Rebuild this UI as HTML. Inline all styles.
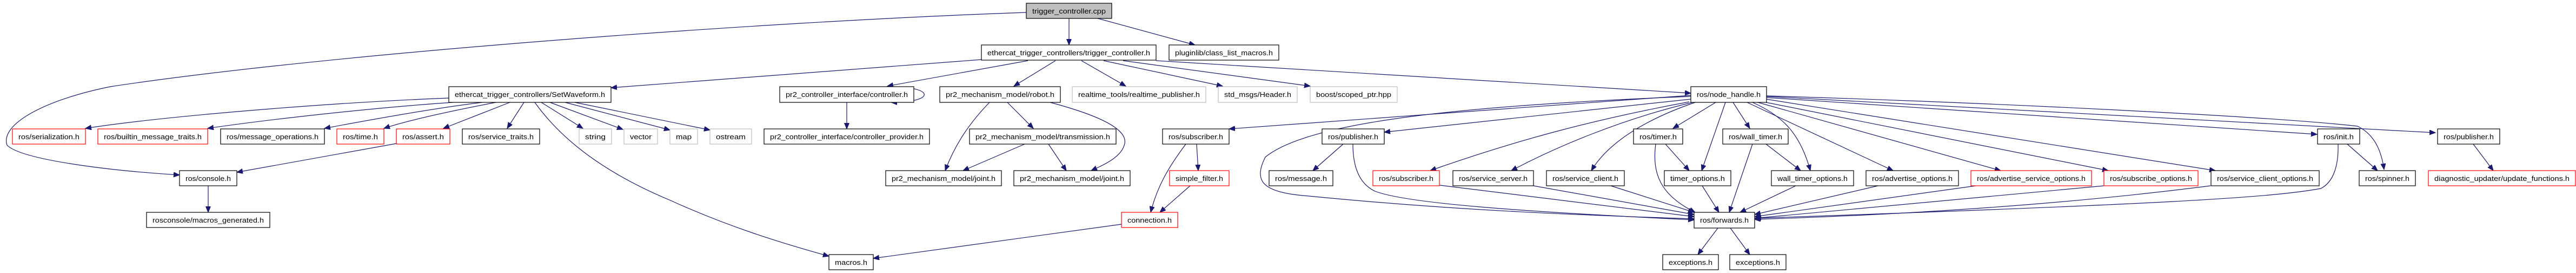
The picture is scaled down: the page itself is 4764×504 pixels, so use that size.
<!DOCTYPE html>
<html><head><meta charset="utf-8"><style>
html,body{margin:0;padding:0;background:#fff;}
svg{display:block;}
text{font-family:"Liberation Sans",sans-serif;font-size:13px;fill:#000;text-anchor:middle;}
.n{fill:#fff;stroke:#000;stroke-width:1.2;}
.r{fill:#fff;stroke:#ff0000;stroke-width:1.2;}
.g{fill:#fff;stroke:#bfbfbf;stroke-width:1.2;}
.e{fill:none;stroke:#191970;stroke-width:1.2;marker-end:url(#a);}
</style></head><body>
<svg width="4764" height="504" viewBox="0 0 4764 504" xmlns="http://www.w3.org/2000/svg">
<defs><marker id="a" markerUnits="userSpaceOnUse" markerWidth="12" markerHeight="10" refX="11" refY="4.5" orient="auto"><path d="M0,0 L11,4.5 L0,9 Z" fill="#191970" stroke="#191970"/></marker></defs>

<!-- edges -->
<g>
<path class="e" d="M1977,34 L1977,83"/>
<path class="e" d="M2030,34 L2210,83"/>
<path class="e" d="M1898,23 C1400,40 600,100 204,160 C80,185 0,230 13,268 C40,295 200,315 332,323"/>
<path class="e" d="M1815,110 L1130,162"/>
<path class="e" d="M1901,112 L1641,159"/>
<path class="e" d="M1952,112 L1875,159"/>
<path class="e" d="M2000,112 L2082,159"/>
<path class="e" d="M2041,112 L2261,159"/>
<path class="e" d="M2077,112 L2423,159"/>
<path class="e" d="M2138,112 L3127,172"/>
<path class="e" d="M1646,160 C1730,160 1730,189 1648,189"/>
<path class="e" d="M1566,189 L1566,238"/>
<path class="e" d="M830,181 C600,190 300,215 158,237"/>
<path class="e" d="M838,189 C700,198 500,220 384,237"/>
<path class="e" d="M892,189 C800,200 680,222 600,237"/>
<path class="e" d="M917,189 C860,200 760,220 710,237"/>
<path class="e" d="M943,189 L820,237"/>
<path class="e" d="M969,189 L938,237"/>
<path class="e" d="M1001,189 L1078,237"/>
<path class="e" d="M1017,189 L1152,239"/>
<path class="e" d="M1045,189 L1239,240"/>
<path class="e" d="M1063,189 L1313,240"/>
<path class="e" d="M989,189 C1040,260 1120,320 1240,370 C1350,420 1450,450 1533,473"/>
<path class="e" d="M733,265 L438,318"/>
<path class="e" d="M385,343 L385,392"/>
<path class="e" d="M1830,189 C1790,230 1765,270 1748,315"/>
<path class="e" d="M1863,189 L1911,237"/>
<path class="e" d="M1942,189 C2040,215 2085,240 2080,265 C2075,290 2040,305 2018,315"/>
<path class="e" d="M1895,266 L1781,315"/>
<path class="e" d="M1939,266 L1972,315"/>
<path class="e" d="M3127,176 L2273,238"/>
<path class="e" d="M3127,178 C2700,195 2420,225 2340,290 C2320,330 2330,352 2400,360 C2700,390 2950,398 3133,404"/>
<path class="e" d="M3127,183 L2560,244"/>
<path class="e" d="M3124,188 C2950,220 2800,260 2645,315"/>
<path class="e" d="M3130,189 C3000,220 2880,270 2795,315"/>
<path class="e" d="M3135,189 C3030,225 2970,270 2943,315"/>
<path class="e" d="M3173,189 L3094,237"/>
<path class="e" d="M3191,189 L3147,315"/>
<path class="e" d="M3205,189 L3236,237"/>
<path class="e" d="M3241,189 C3300,215 3330,250 3348,315"/>
<path class="e" d="M3231,189 L3501,315"/>
<path class="e" d="M3251,189 L3700,315"/>
<path class="e" d="M3266,189 L3899,315"/>
<path class="e" d="M3266,183 L4097,315"/>
<path class="e" d="M3266,180 L4285,248"/>
<path class="e" d="M3266,177 C3700,190 4200,215 4360,233 C4395,250 4405,285 4409,313"/>
<path class="e" d="M3266,178 L4504,245"/>
<path class="e" d="M4341,266 L4397,315"/>
<path class="e" d="M4324,266 C4325,300 4318,335 4292,348 C4200,365 4000,377 3246,403"/>
<path class="e" d="M4574,266 L4611,315"/>
<path class="e" d="M2484,266 L2428,315"/>
<path class="e" d="M2502,266 C2502,310 2515,340 2543,353 C2600,375 2800,390 3133,406"/>
<path class="e" d="M2663,342 L3133,400"/>
<path class="e" d="M2836,343 L3133,396"/>
<path class="e" d="M2979,343 L3133,392"/>
<path class="e" d="M3062,266 C3055,320 3070,360 3135,392"/>
<path class="e" d="M3080,266 L3124,315"/>
<path class="e" d="M3148,343 L3179,392"/>
<path class="e" d="M3241,266 L3198,392"/>
<path class="e" d="M3266,266 L3330,315"/>
<path class="e" d="M3321,343 L3218,392"/>
<path class="e" d="M3473,343 L3245,396"/>
<path class="e" d="M3654,343 L3245,400"/>
<path class="e" d="M3891,343 L3245,403"/>
<path class="e" d="M4088,343 C3800,380 3500,397 3245,405"/>
<path class="e" d="M3177,421 L3140,470"/>
<path class="e" d="M3200,421 L3236,470"/>
<path class="e" d="M2213,266 L2216,315"/>
<path class="e" d="M2193,266 C2160,310 2140,345 2128,392"/>
<path class="e" d="M2201,343 L2145,392"/>
<path class="e" d="M2074,414 L1615,477"/>
</g>

<!-- nodes -->
<g>
<rect class="r" x="23" y="238" width="135" height="28"/><text x="90.5" y="257" textLength="113" lengthAdjust="spacingAndGlyphs">ros/serialization.h</text>
<rect class="r" x="181" y="238" width="203" height="28"/><text x="282.5" y="257" textLength="181" lengthAdjust="spacingAndGlyphs">ros/builtin_message_traits.h</text>
<rect class="n" x="408" y="238" width="192" height="28"/><text x="504" y="257" textLength="170" lengthAdjust="spacingAndGlyphs">ros/message_operations.h</text>
<rect class="r" x="623" y="238" width="87" height="28"/><text x="666.5" y="257" textLength="65" lengthAdjust="spacingAndGlyphs">ros/time.h</text>
<rect class="r" x="733" y="238" width="99" height="28"/><text x="782.5" y="257" textLength="77" lengthAdjust="spacingAndGlyphs">ros/assert.h</text>
<rect class="n" x="332" y="315" width="106" height="28"/><text x="385" y="334" textLength="84" lengthAdjust="spacingAndGlyphs">ros/console.h</text>
<rect class="n" x="271" y="392" width="228" height="28"/><text x="385" y="411" textLength="206" lengthAdjust="spacingAndGlyphs">rosconsole/macros_generated.h</text>
<rect class="n" x="830" y="160" width="300" height="29"/><text x="980" y="179" textLength="278" lengthAdjust="spacingAndGlyphs">ethercat_trigger_controllers/SetWaveform.h</text>
<rect class="n" x="855" y="238" width="143" height="28"/><text x="926.5" y="257" textLength="121" lengthAdjust="spacingAndGlyphs">ros/service_traits.h</text>
<rect class="g" x="1071" y="238" width="60" height="28"/><text x="1101" y="257" textLength="38" lengthAdjust="spacingAndGlyphs">string</text>
<rect class="g" x="1154" y="238" width="62" height="28"/><text x="1185" y="257" textLength="40" lengthAdjust="spacingAndGlyphs">vector</text>
<rect class="g" x="1239" y="238" width="51" height="28"/><text x="1264.5" y="257" textLength="29" lengthAdjust="spacingAndGlyphs">map</text>
<rect class="g" x="1313" y="238" width="77" height="28"/><text x="1351.5" y="257" textLength="55" lengthAdjust="spacingAndGlyphs">ostream</text>
<rect class="n" x="1442" y="160" width="248" height="29"/><text x="1566" y="179" textLength="226" lengthAdjust="spacingAndGlyphs">pr2_controller_interface/controller.h</text>
<rect class="n" x="1413" y="238" width="306" height="28"/><text x="1566" y="257" textLength="284" lengthAdjust="spacingAndGlyphs">pr2_controller_interface/controller_provider.h</text>
<rect class="n" x="1533" y="470" width="82" height="28"/><text x="1574" y="489" textLength="60" lengthAdjust="spacingAndGlyphs">macros.h</text>
<rect x="1898" y="6" width="158" height="28" fill="#bfbfbf" stroke="#000" stroke-width="1.2"/><text x="1977" y="25" textLength="136" lengthAdjust="spacingAndGlyphs">trigger_controller.cpp</text>
<rect class="n" x="1815" y="83" width="323" height="28"/><text x="1976.5" y="102" textLength="301" lengthAdjust="spacingAndGlyphs">ethercat_trigger_controllers/trigger_controller.h</text>
<rect class="n" x="2162" y="83" width="203" height="28"/><text x="2263.5" y="102" textLength="181" lengthAdjust="spacingAndGlyphs">pluginlib/class_list_macros.h</text>
<rect class="n" x="1738" y="160" width="223" height="29"/><text x="1849.5" y="179" textLength="201" lengthAdjust="spacingAndGlyphs">pr2_mechanism_model/robot.h</text>
<rect class="g" x="1983" y="160" width="247" height="29"/><text x="2106.5" y="179" textLength="225" lengthAdjust="spacingAndGlyphs">realtime_tools/realtime_publisher.h</text>
<rect class="g" x="2253" y="160" width="146" height="29"/><text x="2326" y="179" textLength="124" lengthAdjust="spacingAndGlyphs">std_msgs/Header.h</text>
<rect class="n" x="1793" y="238" width="271" height="28"/><text x="1928.5" y="257" textLength="249" lengthAdjust="spacingAndGlyphs">pr2_mechanism_model/transmission.h</text>
<rect class="n" x="1638" y="315" width="214" height="28"/><text x="1745" y="334" textLength="192" lengthAdjust="spacingAndGlyphs">pr2_mechanism_model/joint.h</text>
<rect class="n" x="1875" y="315" width="215" height="28"/><text x="1982.5" y="334" textLength="193" lengthAdjust="spacingAndGlyphs">pr2_mechanism_model/joint.h</text>
<rect class="n" x="2150" y="238" width="123" height="28"/><text x="2211.5" y="257" textLength="101" lengthAdjust="spacingAndGlyphs">ros/subscriber.h</text>
<rect class="r" x="2163" y="315" width="110" height="28"/><text x="2218" y="334" textLength="88" lengthAdjust="spacingAndGlyphs">simple_filter.h</text>
<rect class="r" x="2074" y="392" width="104" height="28"/><text x="2126" y="411" textLength="82" lengthAdjust="spacingAndGlyphs">connection.h</text>
<rect class="n" x="2347" y="315" width="118" height="28"/><text x="2406" y="334" textLength="96" lengthAdjust="spacingAndGlyphs">ros/message.h</text>
<rect class="g" x="2423" y="160" width="161" height="29"/><text x="2503.5" y="179" textLength="139" lengthAdjust="spacingAndGlyphs">boost/scoped_ptr.hpp</text>
<rect class="n" x="3127" y="160" width="140" height="29"/><text x="3197" y="179" textLength="118" lengthAdjust="spacingAndGlyphs">ros/node_handle.h</text>
<rect class="n" x="2445" y="238" width="115" height="28"/><text x="2502.5" y="257" textLength="93" lengthAdjust="spacingAndGlyphs">ros/publisher.h</text>
<rect class="r" x="2539" y="315" width="123" height="28"/><text x="2600.5" y="334" textLength="101" lengthAdjust="spacingAndGlyphs">ros/subscriber.h</text>
<rect class="n" x="2687" y="315" width="149" height="28"/><text x="2761.5" y="334" textLength="127" lengthAdjust="spacingAndGlyphs">ros/service_server.h</text>
<rect class="n" x="2860" y="315" width="144" height="28"/><text x="2932" y="334" textLength="122" lengthAdjust="spacingAndGlyphs">ros/service_client.h</text>
<rect class="n" x="3021" y="238" width="91" height="28"/><text x="3066.5" y="257" textLength="69" lengthAdjust="spacingAndGlyphs">ros/timer.h</text>
<rect class="n" x="3078" y="315" width="123" height="28"/><text x="3139.5" y="334" textLength="101" lengthAdjust="spacingAndGlyphs">timer_options.h</text>
<rect class="n" x="3186" y="238" width="121" height="28"/><text x="3246.5" y="257" textLength="99" lengthAdjust="spacingAndGlyphs">ros/wall_timer.h</text>
<rect class="n" x="3133" y="392" width="112" height="29"/><text x="3189" y="411" textLength="90" lengthAdjust="spacingAndGlyphs">ros/forwards.h</text>
<rect class="n" x="3075" y="470" width="103" height="28"/><text x="3126.5" y="489" textLength="81" lengthAdjust="spacingAndGlyphs">exceptions.h</text>
<rect class="n" x="3199" y="470" width="104" height="28"/><text x="3251" y="489" textLength="82" lengthAdjust="spacingAndGlyphs">exceptions.h</text>
<rect class="n" x="3276" y="315" width="152" height="28"/><text x="3352" y="334" textLength="130" lengthAdjust="spacingAndGlyphs">wall_timer_options.h</text>
<rect class="n" x="3451" y="315" width="171" height="28"/><text x="3536.5" y="334" textLength="149" lengthAdjust="spacingAndGlyphs">ros/advertise_options.h</text>
<rect class="r" x="3645" y="315" width="223" height="28"/><text x="3756.5" y="334" textLength="201" lengthAdjust="spacingAndGlyphs">ros/advertise_service_options.h</text>
<rect class="r" x="3891" y="315" width="174" height="28"/><text x="3978" y="334" textLength="152" lengthAdjust="spacingAndGlyphs">ros/subscribe_options.h</text>
<rect class="n" x="4089" y="315" width="200" height="28"/><text x="4189" y="334" textLength="178" lengthAdjust="spacingAndGlyphs">ros/service_client_options.h</text>
<rect class="n" x="4286" y="238" width="78" height="28"/><text x="4325" y="257" textLength="56" lengthAdjust="spacingAndGlyphs">ros/init.h</text>
<rect class="n" x="4363" y="315" width="104" height="28"/><text x="4415" y="334" textLength="82" lengthAdjust="spacingAndGlyphs">ros/spinner.h</text>
<rect class="n" x="4508" y="238" width="115" height="28"/><text x="4565.5" y="257" textLength="93" lengthAdjust="spacingAndGlyphs">ros/publisher.h</text>
<rect class="r" x="4491" y="315" width="272" height="28"/><text x="4627" y="334" textLength="250" lengthAdjust="spacingAndGlyphs">diagnostic_updater/update_functions.h</text>
</g>
</svg>
</body></html>
